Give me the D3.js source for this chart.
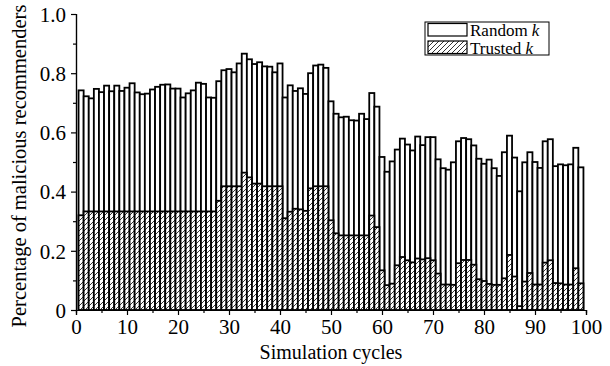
<!DOCTYPE html>
<html>
<head>
<meta charset="utf-8">
<script src="https://cdn.jsdelivr.net/npm/d3@7"></script>
<style>
body { margin:0; background:#fff; }
svg { display:block; }
svg text { font-family:"Liberation Serif","Times New Roman",serif; fill:#000; }
</style>
</head>
<body>
<svg id="chart" width="610" height="366"></svg>
<script>
// simulation cycles 1..99
var cycles = d3.range(1, 100);

var randomK = [
	0.742,0.722,0.715,0.747,0.736,0.758,0.739,0.758,0.740,0.751,
	0.766,0.735,0.729,0.731,0.745,0.754,0.761,0.762,0.748,0.748,
	0.718,0.732,0.742,0.768,0.764,0.718,0.717,0.773,0.810,0.814,
	0.803,0.833,0.866,0.847,0.831,0.837,0.823,0.822,0.803,0.833,
	0.718,0.759,0.740,0.749,0.730,0.800,0.826,0.829,0.818,0.705,
	0.663,0.651,0.653,0.641,0.640,0.663,0.645,0.733,0.687,0.517,
	0.467,0.502,0.542,0.579,0.559,0.539,0.586,0.557,0.584,0.584,
	0.509,0.479,0.474,0.499,0.570,0.581,0.577,0.556,0.511,0.494,
	0.508,0.479,0.453,0.533,0.589,0.515,0.401,0.499,0.533,0.500,
	0.480,0.570,0.577,0.486,0.492,0.489,0.492,0.548,0.482
];

var trustedK = [
	0.320,0.333,0.333,0.333,0.333,0.333,0.333,0.333,0.333,0.333,
	0.333,0.333,0.333,0.333,0.333,0.333,0.333,0.333,0.333,0.333,
	0.333,0.333,0.333,0.333,0.333,0.333,0.333,0.369,0.418,0.418,
	0.418,0.418,0.464,0.448,0.427,0.427,0.418,0.418,0.418,0.418,
	0.310,0.332,0.342,0.340,0.335,0.411,0.418,0.418,0.418,0.303,
	0.259,0.252,0.252,0.252,0.252,0.252,0.252,0.319,0.280,0.134,
	0.084,0.089,0.151,0.179,0.168,0.161,0.174,0.171,0.175,0.168,
	0.123,0.086,0.086,0.085,0.158,0.169,0.169,0.153,0.104,0.098,
	0.088,0.085,0.085,0.107,0.186,0.113,0.013,0.096,0.125,0.086,
	0.086,0.160,0.168,0.091,0.090,0.086,0.086,0.141,0.090
];

var xMajor = [0,10,20,30,40,50,60,70,80,90,100];
var xMinor = [5,15,25,35,45,55,65,75,85,95];
var yMajor = [0,0.2,0.4,0.6,0.8,1.0];
var yMinor = [0.1,0.3,0.5,0.7,0.9];

var svg = d3.select("#chart");

var defs = svg.append("defs");
var pat = defs.append("pattern").attr("id","hatch")
	.attr("patternUnits","userSpaceOnUse").attr("width",5).attr("height",5);
pat.append("rect").attr("width",5).attr("height",5).attr("fill","#fff");
pat.append("path").attr("d","M-1,1 l2,-2 M0,5 l5,-5 M4,6 l2,-2")
	.attr("stroke","#000").attr("stroke-width",0.8);

var x = d3.scaleLinear().domain([0,100]).range([76,586]);
var y = d3.scaleLinear().domain([0,1]).range([310,14]);

// random k bars
svg.append("g").selectAll("rect").data(cycles).enter().append("rect")
	.attr("x", function(d){ return x(d-0.5); })
	.attr("width", function(d){ return x(d+0.5)-x(d-0.5); })
	.attr("y", function(d,i){ return y(randomK[i]); })
	.attr("height", function(d,i){ return y(0)-y(randomK[i]); })
	.attr("fill","#fff").attr("stroke","#000").attr("stroke-width",1.8);

// trusted k bars
svg.append("g").selectAll("rect").data(cycles).enter().append("rect")
	.attr("x", function(d){ return x(d-0.5); })
	.attr("width", function(d){ return x(d+0.5)-x(d-0.5); })
	.attr("y", function(d,i){ return y(trustedK[i]); })
	.attr("height", function(d,i){ return y(0)-y(trustedK[i]); })
	.attr("fill","url(#hatch)").attr("stroke","#000").attr("stroke-width",1.8);

// axes
var fmtY = function(d){ return d===0 ? "0" : d3.format(".1f")(d); };

var gx = svg.append("g").attr("transform","translate(0,310)");
gx.call(d3.axisBottom(x).tickValues(xMajor).tickSize(5).tickPadding(4));
gx.append("g").call(d3.axisBottom(x).tickValues(xMinor).tickSize(3).tickFormat(""));

var gy = svg.append("g").attr("transform","translate(76,0)");
gy.call(d3.axisLeft(y).tickValues(yMajor).tickSize(5).tickPadding(5).tickFormat(fmtY));
gy.append("g").call(d3.axisLeft(y).tickValues(yMinor).tickSize(3).tickFormat(""));

svg.selectAll("g").attr("font-family",null);
svg.selectAll(".domain").attr("stroke","#000").attr("stroke-width",1.2);
svg.selectAll(".tick line").attr("stroke","#000").attr("stroke-width",1.2);
svg.selectAll(".tick text").attr("font-size",21);
gy.selectAll(".tick text").attr("dy","0.35em");

svg.append("text").attr("x",331).attr("y",359).attr("text-anchor","middle")
	.attr("font-size",20).text("Simulation cycles");

svg.append("text").attr("transform","translate(26,166) rotate(-90)")
	.attr("text-anchor","middle").attr("font-size",20.5)
	.text("Percentage of malicious recommenders");

// legend
var leg = svg.append("g");
leg.append("rect").attr("x",425).attr("y",22).attr("width",124).attr("height",33)
	.attr("fill","#fff").attr("stroke","#000").attr("stroke-width",1);
var legItems = [
	{name:"Random ", fill:"#fff", y:23.5},
	{name:"Trusted ", fill:"url(#hatch)", y:41}
];
legItems.forEach(function(it){
	leg.append("rect").attr("x",428).attr("y",it.y).attr("width",39).attr("height",12.5)
		.attr("fill",it.fill).attr("stroke","#000").attr("stroke-width",1.2);
	var t = leg.append("text").attr("x",470).attr("y",it.y+12.5).attr("font-size",17).text(it.name);
	t.append("tspan").attr("font-style","italic").text("k");
});
</script>
</body>
</html>
